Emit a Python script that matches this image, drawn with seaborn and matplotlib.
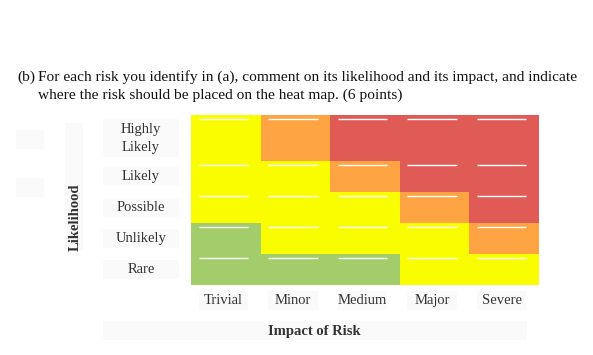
import numpy as np
import matplotlib.pyplot as plt
import seaborn as sns
from matplotlib.colors import ListedColormap
from matplotlib.patches import Rectangle
from matplotlib.transforms import blended_transform_factory

likelihood = ['Highly\nLikely', 'Likely', 'Possible', 'Unlikely', 'Rare']
impact = ['Trivial', 'Minor', 'Medium', 'Major', 'Severe']
# 1 = low (green), 2 = medium (yellow), 3 = high (orange), 4 = extreme (red)
risk_levels = [
    [2, 3, 4, 4, 4],
    [2, 2, 3, 4, 4],
    [2, 2, 2, 3, 4],
    [1, 2, 2, 2, 3],
    [1, 1, 1, 2, 2],
]
# top row is drawn 1.5x as tall as the others
row_weight = [3, 2, 2, 2, 2]
level_colors = ['#a2cd6a', '#fafd00', '#fea443', '#e05b56']
question = ['(b)',
            'For each risk you identify in (a), comment on its likelihood and its impact, and indicate',
            'where the risk should be placed on the heat map. (6 points)']

plt.rcParams['font.family'] = ['Liberation Serif', 'DejaVu Serif']
W, H = 593, 355
fig = plt.figure(figsize=(W / 100, H / 100), dpi=100)
ax = fig.add_axes([191 / W, 1 - 285 / H, 348 / W, 170 / H])

grid = np.repeat(np.array(risk_levels), row_weight, axis=0)
sns.heatmap(grid, ax=ax, cmap=ListedColormap(level_colors), vmin=0.5, vmax=4.5,
            cbar=False, xticklabels=False, yticklabels=False)
ax.set_xlabel('')
ax.set_ylabel('')
ax.tick_params(length=0)

BOX = '#fafafa'
TXT = '#333333'
FS = 10.5
row_top = np.cumsum([0] + row_weight[:-1])

# blank answer lines at the top of every cell
for top in row_top:
    ax.hlines([top + 0.26] * len(impact), np.arange(len(impact)) + 0.11,
              np.arange(len(impact)) + 0.82, color='white', lw=1.0)


def px_box(x0, y0, x1, y1):
    fig.add_artist(Rectangle((x0 / W, 1 - y1 / H), (x1 - x0) / W, (y1 - y0) / H,
                             transform=fig.transFigure, facecolor=BOX, edgecolor='none', zorder=0))


# row labels
tr_row = blended_transform_factory(fig.transFigure, ax.transData)
for lab, top, w in zip(likelihood, row_top, row_weight):
    mid = top + w / 2
    half = (w / 2 - 0.28) if w > 2 else 0.62
    fig.add_artist(Rectangle((103 / W, mid - half), 76 / W, 2 * half, transform=tr_row,
                             facecolor=BOX, edgecolor='none', zorder=0))
    fig.text(141 / W, mid, lab, transform=tr_row, ha='center', va='center',
             fontsize=FS, color=TXT, linespacing=1.5)

# column labels
tr_col = blended_transform_factory(ax.transData, fig.transFigure)
for i, lab in enumerate(impact):
    fig.add_artist(Rectangle((i + 0.11, 1 - 310 / H), 0.71, 19 / H, transform=tr_col,
                             facecolor=BOX, edgecolor='none', zorder=0))
    fig.text(i + 0.465, 1 - 300.5 / H, lab, transform=tr_col, ha='center', va='center',
             fontsize=FS, color=TXT)

# axis titles
px_box(65, 123, 83, 250)
fig.text(75 / W, 1 - 217 / H, 'Likelihood', rotation=90, ha='center', va='center',
         fontsize=FS, fontweight='bold', color=TXT)
px_box(103, 321, 527, 340)
fig.text(314 / W, 1 - 331 / H, 'Impact of Risk', ha='center', va='center',
         fontsize=FS, fontweight='bold', color=TXT)

# faint leftover boxes on the left
px_box(16, 130, 44, 149)
px_box(16, 178, 44, 197)

# question text
fig.text(17 / W, 1 - 77 / H, question[0], va='center', fontsize=11.1, color='#111111')
fig.text(38 / W, 1 - 77 / H, question[1], va='center', fontsize=11.1, color='#111111')
fig.text(38 / W, 1 - 95 / H, question[2], va='center', fontsize=11.1, color='#111111')

fig.savefig('out.png', dpi=100)
